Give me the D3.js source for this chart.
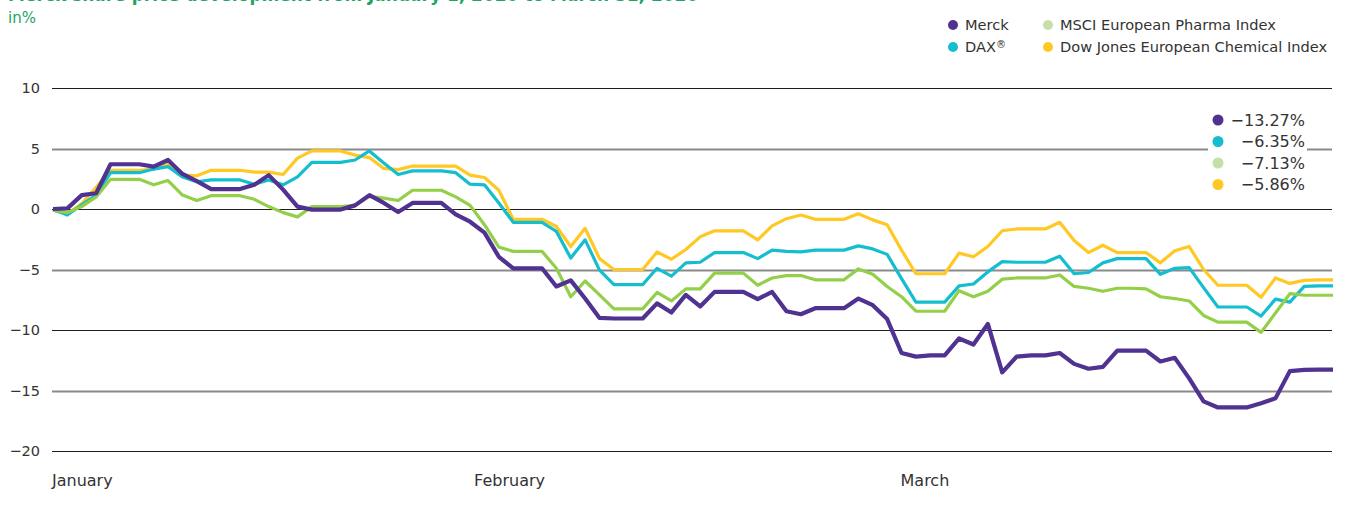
<!DOCTYPE html>
<html>
<head>
<meta charset="utf-8">
<script src="https://cdn.jsdelivr.net/npm/d3@7"></script>
<style>
    body { margin: 0; background: #fff; }
    svg { display: block; font-family: "DejaVu Sans", Verdana, sans-serif; }
</style>
</head>
<body>
<svg id="chart" width="1345" height="518"></svg>
<script>
// daily values, Jan 2 - Mar 31 (calendar days, weekends carried forward), change in %
const merck = [0, 0.05, 1.15, 1.3, 3.7, 3.7, 3.7, 3.5, 4.05, 2.9, 2.3, 1.65, 1.65, 1.65, 2.0, 2.8, 1.6, 0.2, -0.05, -0.05,
    -0.05, 0.3, 1.15, 0.5, -0.25, 0.5, 0.5, 0.5, -0.45, -1.05, -1.95, -3.95, -4.9, -4.9, -4.9, -6.4, -5.9, -7.4, -9.0, -9.05,
    -9.05, -9.05, -7.8, -8.55, -7.1, -8.05, -6.85, -6.85, -6.85, -7.45, -6.85, -8.45, -8.7, -8.2, -8.2, -8.2, -7.4, -7.95, -9.1, -11.9,
    -12.2, -12.1, -12.1, -10.7, -11.2, -9.5, -13.5, -12.2, -12.1, -12.1, -11.9, -12.8, -13.2, -13.05, -11.7, -11.7, -11.7, -12.6, -12.3, -14.0,
    -15.9, -16.4, -16.4, -16.4, -16.05, -15.65, -13.4, -13.3, -13.27, -13.27];
const dax = [-0.05, -0.5, 0.35, 1.15, 3.0, 3.0, 3.0, 3.3, 3.5, 2.65, 2.25, 2.4, 2.4, 2.4, 2.05, 2.4, 2.0, 2.65, 3.85, 3.85,
    3.85, 4.05, 4.8, 3.8, 2.85, 3.15, 3.15, 3.15, 3.0, 2.05, 2.0, 0.5, -1.1, -1.1, -1.1, -1.85, -4.05, -2.55, -5.05, -6.25,
    -6.25, -6.25, -4.9, -5.55, -4.45, -4.4, -3.6, -3.6, -3.6, -4.1, -3.4, -3.5, -3.55, -3.4, -3.4, -3.4, -3.05, -3.3, -3.75, -5.75,
    -7.7, -7.7, -7.7, -6.35, -6.2, -5.2, -4.35, -4.4, -4.4, -4.4, -3.9, -5.35, -5.25, -4.45, -4.1, -4.1, -4.1, -5.4, -4.9, -4.85,
    -6.5, -8.1, -8.1, -8.1, -8.85, -7.45, -7.7, -6.4, -6.35, -6.35];
const msci = [-0.1, -0.3, 0.2, 1.0, 2.45, 2.45, 2.45, 2.0, 2.35, 1.15, 0.7, 1.1, 1.1, 1.1, 0.8, 0.2, -0.3, -0.65, 0.2, 0.2,
    0.2, 0.3, 1.05, 0.9, 0.7, 1.55, 1.55, 1.55, 1.0, 0.3, -1.3, -3.15, -3.5, -3.5, -3.5, -4.9, -7.25, -5.95, -7.1, -8.25,
    -8.25, -8.25, -6.9, -7.6, -6.6, -6.6, -5.3, -5.3, -5.3, -6.3, -5.7, -5.5, -5.5, -5.85, -5.85, -5.85, -4.95, -5.4, -6.4, -7.25,
    -8.45, -8.45, -8.45, -6.75, -7.25, -6.8, -5.8, -5.7, -5.7, -5.7, -5.45, -6.4, -6.55, -6.8, -6.55, -6.55, -6.6, -7.25, -7.4, -7.6,
    -8.8, -9.35, -9.35, -9.35, -10.2, -8.6, -7.0, -7.13, -7.13, -7.13];
const dowJones = [-0.1, -0.4, 0.45, 1.8, 3.2, 3.2, 3.2, 3.3, 3.7, 2.8, 2.75, 3.2, 3.2, 3.2, 3.05, 3.05, 2.85, 4.2, 4.8, 4.8,
    4.8, 4.45, 4.25, 3.35, 3.25, 3.55, 3.55, 3.55, 3.55, 2.8, 2.6, 1.55, -0.85, -0.85, -0.85, -1.45, -3.1, -1.6, -4.1, -5.0,
    -5.0, -5.0, -3.55, -4.15, -3.35, -2.3, -1.8, -1.8, -1.8, -2.55, -1.4, -0.8, -0.5, -0.85, -0.85, -0.85, -0.4, -0.9, -1.3, -3.4,
    -5.35, -5.35, -5.35, -3.65, -3.95, -3.1, -1.8, -1.65, -1.65, -1.65, -1.1, -2.6, -3.6, -3.0, -3.6, -3.6, -3.6, -4.45, -3.45, -3.1,
    -5.0, -6.3, -6.3, -6.3, -7.3, -5.7, -6.15, -5.9, -5.86, -5.86];

const seriesNames = ['Merck', 'DAX', 'MSCI European Pharma Index', 'Dow Jones European Chemical Index'];
const finalLabels = ['\u221213.27%', '\u22126.35%', '\u22127.13%', '\u22125.86%'];
const yTicks = [10, 5, 0, -5, -10, -15, -20];
const monthLabels = ['January', 'February', 'March'];
const monthPos = [0, 29.35, 59]; // day index where the month label sits

const colors = {
    merck: '#503291',
    dax: '#14bece',
    msci: '#93cf48',
    msciDot: '#c4e0a6',
    dj: '#ffc823',
    green: '#1fa463',
    text: '#333333'
};

const svg = d3.select('#chart');
const x = d3.scaleLinear().domain([0, merck.length - 1]).range([53, 1333]);
const y = d3.scaleLinear().domain([-20, 10]).range([451, 88]);
const minus = v => (v < 0 ? '\u2212' + Math.abs(v) : String(v));

// title (only its lower edge shows at the top of the original)
svg.append('text')
    .attr('x', 8).attr('y', 0.5)
    .attr('fill', colors.green)
    .style('font-size', '17px').style('font-weight', 'bold')
    .text('Merck share price development from January 1, 2020 to March 31, 2020');

svg.append('text')
    .attr('x', 8).attr('y', 23)
    .attr('fill', colors.green)
    .style('font-size', '15px')
    .text('in%');

// grid
svg.append('g').selectAll('line')
    .data(yTicks)
    .enter().append('line')
    .attr('x1', 52).attr('x2', 1332)
    .attr('y1', d => Math.round(y(d)) + 0.5).attr('y2', d => Math.round(y(d)) + 0.5)
    .attr('stroke', d => (d % 10 === 0 ? '#1e1e1e' : '#8a8a8a'))
    .attr('stroke-width', d => (d % 10 === 0 ? 1.2 : 2));

svg.append('g').selectAll('text')
    .data(yTicks)
    .enter().append('text')
    .attr('x', 40)
    .attr('y', d => y(d))
    .attr('dy', '0.36em')
    .attr('text-anchor', 'end')
    .attr('fill', colors.text)
    .style('font-size', '14.5px')
    .text(d => minus(d));

svg.append('g').selectAll('text')
    .data(monthLabels)
    .enter().append('text')
    .attr('x', (d, i) => x(monthPos[i]) - 1)
    .attr('y', 486)
    .attr('fill', colors.text)
    .style('font-size', '16px')
    .text(d => d);

// lines
const line = d3.line().x((d, i) => x(i)).y(d => y(d));
const drawOrder = [
    { data: dowJones, color: colors.dj, width: 3.2 },
    { data: dax, color: colors.dax, width: 3.2 },
    { data: msci, color: colors.msci, width: 3.2 },
    { data: merck, color: colors.merck, width: 4.2 }
];
svg.append('g').selectAll('path')
    .data(drawOrder)
    .enter().append('path')
    .attr('d', d => line(d.data))
    .attr('fill', 'none')
    .attr('stroke', d => d.color)
    .attr('stroke-width', d => d.width)
    .attr('stroke-linejoin', 'round');

// final value box
svg.append('rect')
    .attr('x', 1208).attr('y', 108).attr('width', 99).attr('height', 86)
    .attr('fill', '#fff');
const endColors = [colors.merck, colors.dax, colors.msciDot, colors.dj];
const endG = svg.append('g');
finalLabels.forEach((t, i) => {
    const cy = 120 + i * 21.5;
    endG.append('circle').attr('cx', 1218).attr('cy', cy).attr('r', 5.5).attr('fill', endColors[i]);
    endG.append('text')
        .attr('x', 1305).attr('y', cy).attr('dy', '0.36em')
        .attr('text-anchor', 'end')
        .attr('fill', colors.text)
        .style('font-size', '16px')
        .text(t);
});

// legend
const legendPos = [[953, 25], [953, 47], [1048, 25], [1048, 47]];
const legendColors = [colors.merck, colors.dax, colors.msciDot, colors.dj];
const legend = svg.append('g');
seriesNames.forEach((name, i) => {
    const [lx, ly] = legendPos[i];
    legend.append('circle').attr('cx', lx).attr('cy', ly).attr('r', 5).attr('fill', legendColors[i]);
    const t = legend.append('text')
        .attr('x', lx + 12).attr('y', ly).attr('dy', '0.36em')
        .attr('fill', colors.text)
        .style('font-size', '14.6px')
        .text(name);
    if (name === 'DAX') {
        t.append('tspan').attr('dy', '-0.45em').style('font-size', '10px').text('\u00AE');
    }
});
</script>
</body>
</html>
